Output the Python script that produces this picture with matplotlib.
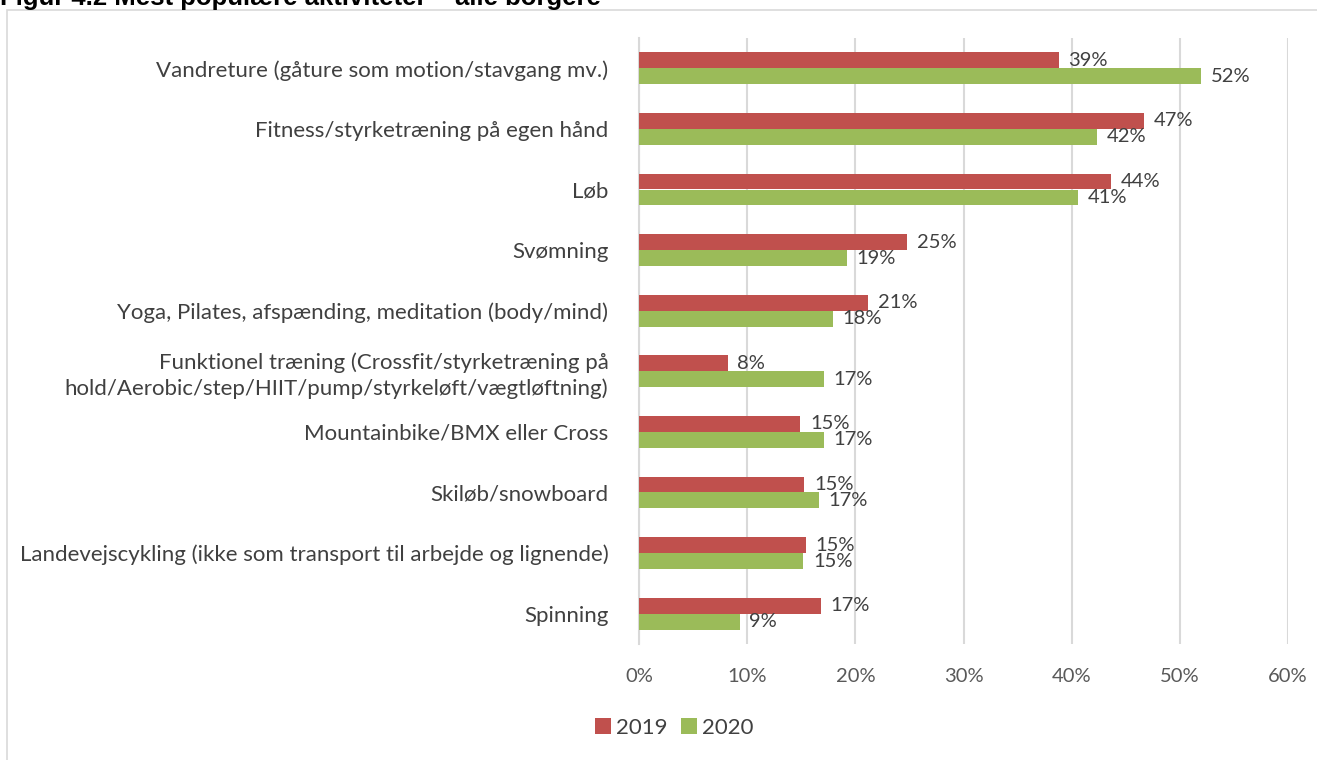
import matplotlib.pyplot as plt
from matplotlib.patches import Rectangle
from matplotlib.ticker import FuncFormatter

categories = [
    "Vandreture (gåture som motion/stavgang mv.)",
    "Fitness/styrketræning på egen hånd",
    "Løb",
    "Svømning",
    "Yoga, Pilates, afspænding, meditation (body/mind)",
    "Funktionel træning (Crossfit/styrketræning på\nhold/Aerobic/step/HIIT/pump/styrkeløft/vægtløftning)",
    "Mountainbike/BMX eller Cross",
    "Skiløb/snowboard",
    "Landevejscykling (ikke som transport til arbejde og lignende)",
    "Spinning",
]
v2019 = [0.388, 0.467, 0.436, 0.248, 0.212, 0.082, 0.149, 0.153, 0.154, 0.168]
v2020 = [0.520, 0.423, 0.406, 0.192, 0.179, 0.171, 0.171, 0.166, 0.152, 0.093]
series = ["2019", "2020"]

red = "#c0504d"
green = "#9bbb59"

plt.rcParams['font.family'] = ['Lato', 'DejaVu Sans']

fig = plt.figure(figsize=(13.17, 7.6), dpi=100)
ax = fig.add_axes([639/1317, 1 - 644/760, (1288 - 639)/1317, (644 - 38)/760])

h = 0.264
pos = list(range(len(categories)))
ax.barh([p - h/2 for p in pos], v2019, height=h, color=red, label=series[0], zorder=3)
ax.barh([p + h/2 for p in pos], v2020, height=h, color=green, label=series[1], zorder=3)

for p, a, b in zip(pos, v2019, v2020):
    ax.annotate(f"{round(a*100)}%", (a, p - h/2), xytext=(7, 0), textcoords="offset points",
                va="center", ha="left", fontsize=14.5, color="#404040", zorder=4)
    ax.annotate(f"{round(b*100)}%", (b, p + h/2), xytext=(7, 0), textcoords="offset points",
                va="center", ha="left", fontsize=14.5, color="#404040", zorder=4)

ax.set_ylim(len(categories) - 0.5, -0.5)
ax.set_xlim(0, 0.6)
ax.set_xticks([0, 0.1, 0.2, 0.3, 0.4, 0.5, 0.6])
ax.xaxis.set_major_formatter(FuncFormatter(lambda x, _: f"{round(x*100)}%"))
ax.set_yticks(pos)
ax.set_yticklabels(categories, fontsize=16, color="#404040", linespacing=1.3)
ax.tick_params(axis="y", length=0, pad=22)
ax.tick_params(axis="x", length=0, pad=17, labelsize=14.5, labelcolor="#595959")
ax.grid(axis="x", color="#d9d9d9", linewidth=1.5, zorder=0)
for s in ["top", "right", "bottom"]:
    ax.spines[s].set_visible(False)
ax.spines["left"].set_color("#d9d9d9")
ax.spines["left"].set_linewidth(1.5)

fig.legend(loc="center", bbox_to_anchor=(674/1317, 1 - 728/760), ncol=2, frameon=False,
           fontsize=16, handlelength=0.75, handleheight=0.75, handletextpad=0.2,
           columnspacing=0.6, labelcolor="#404040")

fig.patches.append(Rectangle((7/1317, -0.05), 1.1, 1 - 10/760 + 0.05, transform=fig.transFigure,
                             fill=False, edgecolor="#d9d9d9", linewidth=1.2))

fig.text(0.0, 1 - 5/760, "Figur 4.2 Mest populære aktiviteter – alle borgere", fontsize=18.5,
         fontweight="bold", family="Liberation Sans", va="baseline", ha="left")

fig.savefig("out.png", dpi=100)
